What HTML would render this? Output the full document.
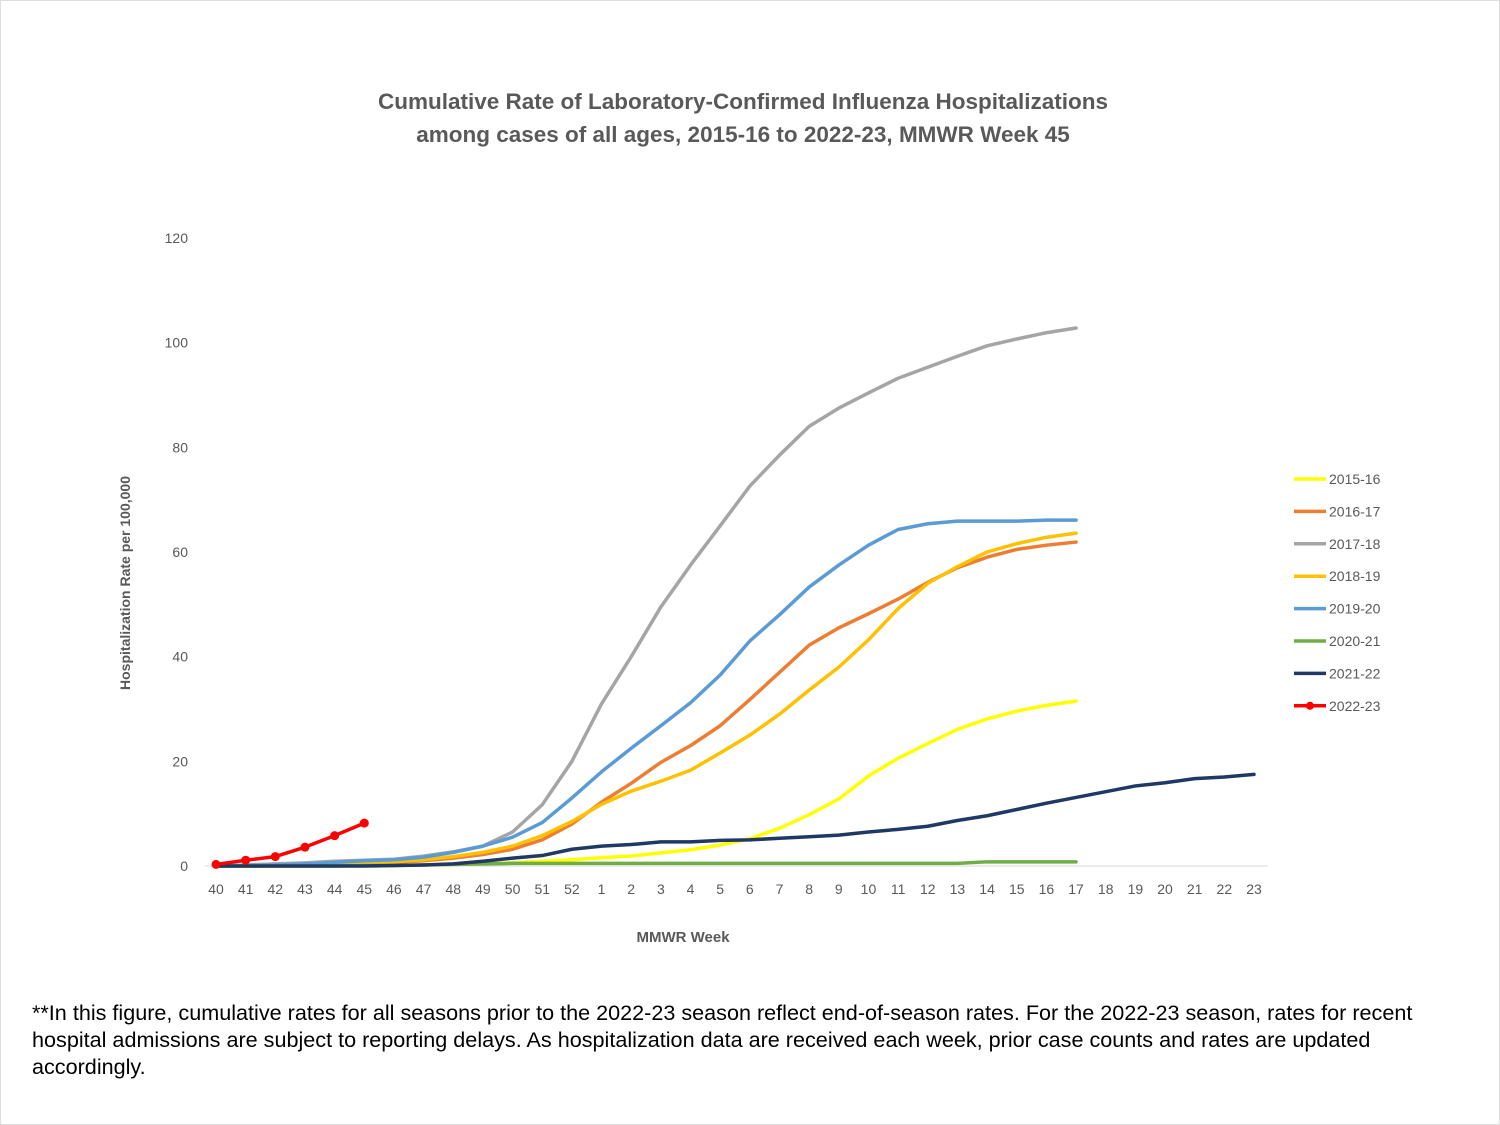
<!DOCTYPE html>
<html><head><meta charset="utf-8"><style>
body{margin:0;background:#fff;}
#wrap{position:relative;width:1500px;height:1125px;overflow:hidden;font-family:"Liberation Sans",sans-serif;}
svg text{font-family:"Liberation Sans",sans-serif;}
#foot{position:absolute;left:32px;top:999px;width:1430px;font-size:21.6px;line-height:27px;color:#000;}
</style></head><body>
<div id="wrap">
<svg id="chart" width="1500" height="1125">
<rect x="0.5" y="0.5" width="1499" height="1124" fill="none" stroke="#ddd"/>
<text x="743" y="109" text-anchor="middle" font-size="22.5" font-weight="bold" fill="#595959">Cumulative Rate of Laboratory-Confirmed Influenza Hospitalizations</text>
<text x="743" y="142" text-anchor="middle" font-size="22.5" font-weight="bold" fill="#595959">among cases of all ages, 2015-16 to 2022-23, MMWR Week 45</text>
<text x="130" y="583" text-anchor="middle" font-size="14" font-weight="bold" fill="#595959" transform="rotate(-90 130 583)">Hospitalization Rate per 100,000</text>
<text x="683" y="942" text-anchor="middle" font-size="15" font-weight="bold" fill="#595959">MMWR Week</text>
<g id="plot"></g>
</svg>
<div id="foot">**In this figure, cumulative rates for all seasons prior to the 2022-23 season reflect end-of-season rates. For the 2022-23 season, rates for recent hospital admissions are subject to reporting delays. As hospitalization data are received each week, prior case counts and rates are updated accordingly.</div>
</div>
<script>
const weeks=["40","41","42","43","44","45","46","47","48","49","50","51","52","1","2","3","4","5","6","7","8","9","10","11","12","13","14","15","16","17","18","19","20","21","22","23"];
const yTicks=[0,20,40,60,80,100,120];
const seasons=["2015-16","2016-17","2017-18","2018-19","2019-20","2020-21","2021-22","2022-23"];
const colors=["#FFFF00","#ED7D31","#A5A5A5","#FFC000","#5B9BD5","#70AD47","#1F3864","#FF0000"];
const s1516=[0,0,0,0,0,0.1,0.1,0.2,0.3,0.4,0.6,0.9,1.2,1.6,1.9,2.5,3.1,4,5.2,7.2,9.8,12.8,17.2,20.6,23.4,26.1,28.1,29.6,30.7,31.5];
const s1617=[0,0,0.1,0.2,0.3,0.5,0.7,1.0,1.5,2.2,3.2,5,8,12.2,15.8,19.8,23,26.8,31.8,37,42.2,45.5,48.2,51,54.2,57,59,60.5,61.3,61.9];
const s1718=[0,0.2,0.4,0.6,0.9,1.1,1.3,1.9,2.7,3.8,6.5,11.7,20,31,40,49.5,57.5,65,72.6,78.5,84,87.5,90.4,93.2,95.3,97.4,99.4,100.7,101.9,102.8];
const s1819=[0,0,0.1,0.2,0.3,0.5,0.8,1.2,1.8,2.6,3.8,5.8,8.5,11.8,14.3,16.2,18.3,21.6,25,29,33.6,38,43.2,49.2,54,57.2,60,61.6,62.8,63.6];
const s1920=[0,0.1,0.2,0.4,0.7,1.0,1.2,1.7,2.6,3.8,5.5,8.3,13,18,22.5,26.8,31.2,36.5,43,48,53.3,57.5,61.3,64.3,65.4,65.9,65.9,65.9,66.1,66.1];
const s2021=[0,0,0,0,0,0.1,0.1,0.2,0.3,0.4,0.5,0.5,0.5,0.5,0.5,0.5,0.5,0.5,0.5,0.5,0.5,0.5,0.5,0.5,0.5,0.5,0.8,0.8,0.8,0.8];
const s2122=[0,0,0,0,0,0,0.1,0.2,0.4,0.9,1.5,2,3.2,3.8,4.1,4.6,4.6,4.9,5,5.3,5.6,5.9,6.5,7,7.6,8.7,9.6,10.8,12,13.1,14.2,15.3,15.9,16.7,17,17.5];
const s2223=[0.3,1.1,1.8,3.6,5.8,8.2];
const series=[s1516,s1617,s1718,s1819,s1920,s2021,s2122,s2223];
const NS="http://www.w3.org/2000/svg";
const g=document.getElementById("plot");
const x0=216,dx=(1254-216)/35,y0=866,ky=(866-238)/120;
const xs=i=>x0+i*dx, ys=v=>y0-v*ky;
function mk(t,a){const e=document.createElementNS(NS,t);for(const k in a)e.setAttribute(k,a[k]);g.appendChild(e);return e;}
const ax=mk("line",{x1:205,x2:1268,y1:y0,y2:y0,stroke:"#d9d9d9","stroke-width":1});


yTicks.forEach(v=>{const t=mk("text",{x:188,y:ys(v)+5,"text-anchor":"end","font-size":14,fill:"#595959"});t.textContent=v;

});
weeks.forEach((w,i)=>{const t=mk("text",{x:xs(i),y:894,"text-anchor":"middle","font-size":14,fill:"#595959"});t.textContent=w;

});
series.forEach((d,si)=>{
const p=mk("polyline",{points:d.map((v,i)=>xs(i)+","+ys(v)).join(" "),fill:"none",stroke:colors[si],"stroke-width":3.5,"stroke-linejoin":"round","stroke-linecap":"round"});


if(si===7)d.forEach((v,i)=>{const c=mk("circle",{cx:xs(i),cy:ys(v),r:4.5,fill:colors[si]});

});
});
seasons.forEach((s,i)=>{const y=479+i*32.4;
const l=mk("line",{x1:1294,x2:1326,y1:y,y2:y,stroke:colors[i],"stroke-width":3.5});


if(i===7){const c=mk("circle",{cx:1310,cy:y,r:4,fill:colors[i]});}
const t=mk("text",{x:1329,y:y+5,"font-size":14,fill:"#595959"});t.textContent=s;

});
</script>
</body></html>
